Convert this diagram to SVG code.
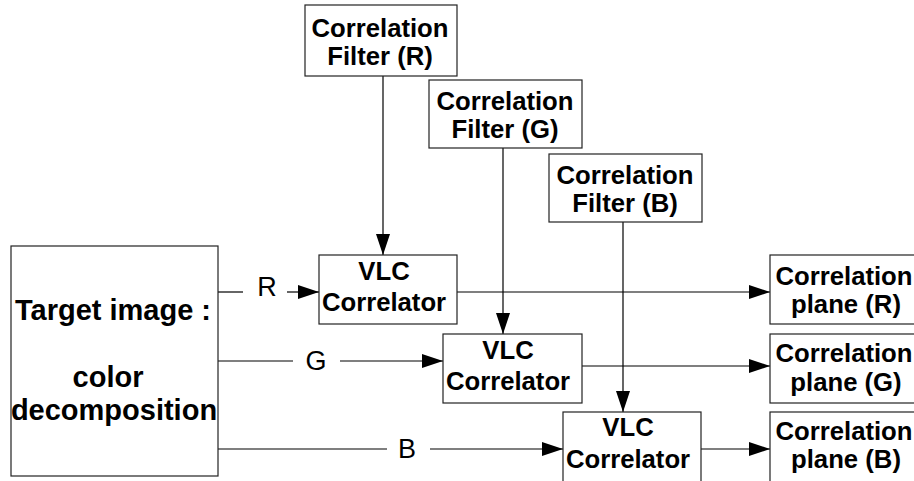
<svg xmlns="http://www.w3.org/2000/svg" width="914" height="481" viewBox="0 0 914 481">
<defs>
<marker id="arr" markerUnits="userSpaceOnUse" markerWidth="21" markerHeight="14" refX="21" refY="7" orient="auto">
<path d="M0,0 L21,7 L0,14 z" fill="#000"/>
</marker>
<style>
.box{fill:#fff;stroke:#222;stroke-width:1.2}
.t{font-family:"Liberation Sans",Arial,sans-serif;font-weight:bold;font-size:25.7px;fill:#000;text-anchor:middle}
.tb{font-family:"Liberation Sans",Arial,sans-serif;font-weight:bold;font-size:29px;fill:#000;text-anchor:middle}
.lbl{font-family:"Liberation Sans",Arial,sans-serif;font-size:27px;fill:#000;text-anchor:middle}
.c{stroke:#000;stroke-width:1.2;fill:none}
.ca{stroke:#000;stroke-width:1.2;fill:none;marker-end:url(#arr)}
</style>
</defs>
<rect width="914" height="481" fill="#fff"/>
<g id="connectors">
<line class="c" x1="218" y1="292" x2="243" y2="292"/>
<line class="ca" x1="287" y1="292" x2="319" y2="292"/>
<line class="c" x1="218" y1="361" x2="293" y2="361"/>
<line class="ca" x1="340" y1="361" x2="443" y2="361"/>
<line class="c" x1="218" y1="449" x2="387" y2="449"/>
<line class="ca" x1="430" y1="449" x2="563" y2="449"/>
<line class="ca" x1="383" y1="76" x2="383" y2="255"/>
<line class="ca" x1="503" y1="148" x2="503" y2="334"/>
<line class="ca" x1="623" y1="222" x2="623" y2="412"/>
<line class="ca" x1="457" y1="292" x2="770" y2="292"/>
<line class="ca" x1="582" y1="366" x2="770" y2="366"/>
<line class="ca" x1="701" y1="449" x2="770" y2="449"/>
<text class="lbl" x="267" y="296">R</text>
<text class="lbl" x="316" y="370">G</text>
<text class="lbl" x="407" y="458">B</text>
</g>
<g id="target">
<rect class="box" x="11" y="246" width="207" height="230"/>
<text class="tb" x="113" y="320">Target image :</text>
<text class="tb" x="108" y="387">color</text>
<text class="tb" x="114" y="420">decomposition</text>
</g>
<g id="filterR">
<rect class="box" x="305" y="5" width="152" height="71"/>
<text class="t" x="380" y="37">Correlation</text>
<text class="t" x="380" y="65">Filter (R)</text>
</g>
<g id="filterG">
<rect class="box" x="429" y="80" width="153" height="68"/>
<text class="t" x="505" y="110">Correlation</text>
<text class="t" x="505" y="138">Filter (G)</text>
</g>
<g id="filterB">
<rect class="box" x="549" y="154" width="153" height="68"/>
<text class="t" x="625" y="184">Correlation</text>
<text class="t" x="625" y="212">Filter (B)</text>
</g>
<g id="vlcR">
<rect class="box" x="319" y="255" width="138" height="69"/>
<text class="t" x="384" y="280">VLC</text>
<text class="t" x="384" y="311">Correlator</text>
</g>
<g id="vlcG">
<rect class="box" x="443" y="334" width="139" height="69"/>
<text class="t" x="508" y="359">VLC</text>
<text class="t" x="508" y="390">Correlator</text>
</g>
<g id="vlcB">
<rect class="box" x="563" y="412" width="138" height="80"/>
<text class="t" x="628" y="436">VLC</text>
<text class="t" x="628" y="468">Correlator</text>
</g>
<g id="planeR">
<rect class="box" x="770" y="255" width="160" height="69"/>
<text class="t" x="844" y="285">Correlation</text>
<text class="t" x="846" y="313">plane (R)</text>
</g>
<g id="planeG">
<rect class="box" x="770" y="334" width="160" height="69"/>
<text class="t" x="844" y="362">Correlation</text>
<text class="t" x="846" y="391">plane (G)</text>
</g>
<g id="planeB">
<rect class="box" x="770" y="412" width="160" height="80"/>
<text class="t" x="844" y="440">Correlation</text>
<text class="t" x="846" y="468">plane (B)</text>
</g>
</svg>
